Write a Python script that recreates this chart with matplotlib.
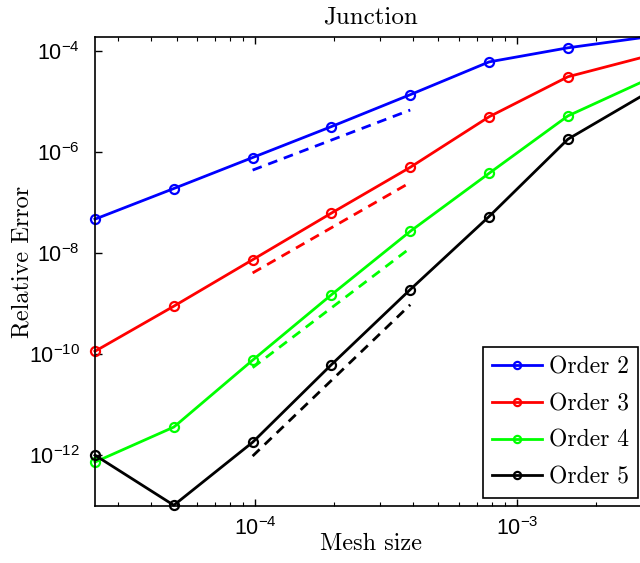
import numpy as np
import matplotlib
matplotlib.use("Agg")
import matplotlib.pyplot as plt

# mesh sizes (halving) and relative errors
meshSize = [2.441e-5, 4.883e-5, 9.766e-5, 1.953e-4, 3.906e-4, 7.813e-4, 1.563e-3, 3.125e-3]
order2 = [4.7e-8, 1.9e-7, 7.8e-7, 3.2e-6, 1.37e-5, 6.1e-5, 1.16e-4, 1.9e-4]
order3 = [1.14e-10, 8.9e-10, 7.4e-9, 6.2e-8, 5.0e-7, 5.0e-6, 3.1e-5, 7.9e-5]
order4 = [7.3e-13, 3.6e-12, 7.6e-11, 1.5e-9, 2.7e-8, 3.8e-7, 5.2e-6, 2.7e-5]
order5 = [1.0e-12, 1.02e-13, 1.8e-12, 6.2e-11, 1.9e-9, 5.3e-8, 1.8e-6, 1.47e-5]

# dashed reference slopes, endpoints only
refX = [9.766e-5, 3.906e-4]
ref2 = [4.4e-7, 6.8e-6]
ref3 = [4.05e-9, 2.5e-7]
ref4 = [5.4e-11, 1.26e-8]
ref5 = [9.6e-13, 9.5e-10]

labels = ["Order 2", "Order 3", "Order 4", "Order 5"]
colors = ["#0000ff", "#ff0000", "#00ff00", "#000000"]

serif = "cmr10"
sans = "Liberation Sans"

fig = plt.figure(figsize=(6.4, 5.63), dpi=100)
ax = fig.add_axes([0.1484, 0.1018, 0.862, 0.8325])

handles = []
for ys, c in zip([order2, order3, order4, order5], colors):
    h, = ax.plot(meshSize, ys, color=c, lw=2, marker="o", ms=6.5,
                 mfc="none", mew=1.6, clip_on=False)
    handles.append(h)

for ys, c in zip([ref2, ref3, ref4, ref5], colors):
    ax.plot(refX, ys, color=c, lw=2, ls=(0, (3.5, 2.5)))

ax.set_xscale("log")
ax.set_yscale("log")
ax.set_xlim(2.441e-5, 3.125e-3)
ax.set_ylim(1e-13, 1.9e-4)
ax.set_yticks([1e-12, 1e-10, 1e-8, 1e-6, 1e-4])
ax.yaxis.set_minor_locator(matplotlib.ticker.NullLocator())

ax.tick_params(which="both", direction="in", top=True, right=True)
ax.tick_params(which="major", length=5, width=1, labelsize=15.5)
ax.tick_params(axis="y", which="major", pad=11)
ax.tick_params(axis="x", which="major", pad=8)
ax.tick_params(which="minor", length=3, width=0.8)
for lab in ax.get_xticklabels() + ax.get_yticklabels():
    lab.set_fontfamily(sans)
for s in ax.spines.values():
    s.set_linewidth(1.2)

ax.set_title("Junction", fontfamily=serif, fontsize=18, pad=10)
ax.set_xlabel("Mesh size", fontfamily=serif, fontsize=17.5)
ax.set_ylabel("Relative Error", fontfamily=serif, fontsize=17.5)
ax.xaxis.set_label_coords(0.5, -0.058)
ax.yaxis.set_label_coords(-0.111, 0.52)

leg = ax.legend(handles, labels, loc="lower right", bbox_to_anchor=(0.9845, 0.0164),
                prop={"family": serif, "size": 17}, fancybox=False,
                edgecolor="black", framealpha=1, handlelength=2.1,
                handletextpad=0.3, borderpad=0.4, labelspacing=0.62,
                borderaxespad=0, markerscale=0.8)
leg.get_frame().set_linewidth(1.2)

fig.savefig("out.png", dpi=100)
